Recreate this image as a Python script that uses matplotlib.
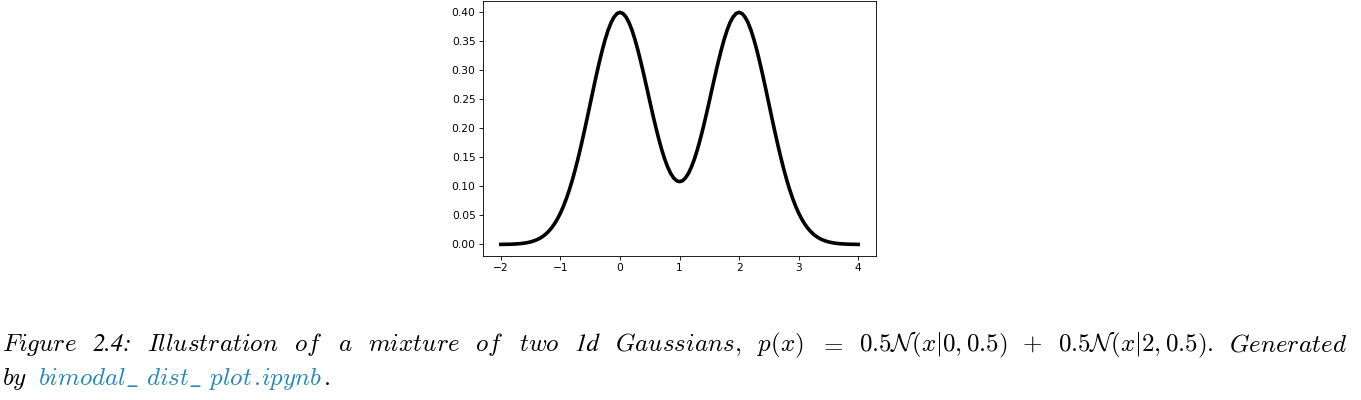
import numpy as np
import matplotlib
matplotlib.use('Agg')
import matplotlib.pyplot as plt

# curve values, x step 0.05 from -2 to 4
x_vals = [round(-2 + 0.05 * i, 2) for i in range(121)]
p_vals = [0.0001, 0.0002, 0.0003, 0.0004, 0.0006, 0.0009, 0.0012, 0.0017, 0.0024, 0.0033,
          0.0044, 0.0060, 0.0079, 0.0104, 0.0136, 0.0175, 0.0224, 0.0283, 0.0355, 0.0440,
          0.0540, 0.0656, 0.0790, 0.0940, 0.1109, 0.1295, 0.1497, 0.1714, 0.1942, 0.2178,
          0.2420, 0.2661, 0.2897, 0.3122, 0.3332, 0.3520, 0.3683, 0.3814, 0.3910, 0.3970,
          0.3990, 0.3971, 0.3913, 0.3818, 0.3689, 0.3529, 0.3344, 0.3139, 0.2921, 0.2694,
          0.2464, 0.2238, 0.2021, 0.1818, 0.1633, 0.1470, 0.1333, 0.1223, 0.1145, 0.1096,
          0.1080,
          0.1096, 0.1145, 0.1223, 0.1333, 0.1470, 0.1633, 0.1818, 0.2021, 0.2238, 0.2464,
          0.2694, 0.2921, 0.3139, 0.3344, 0.3529, 0.3689, 0.3818, 0.3913, 0.3971, 0.3990,
          0.3970, 0.3910, 0.3814, 0.3683, 0.3520, 0.3332, 0.3122, 0.2897, 0.2661, 0.2420,
          0.2178, 0.1942, 0.1714, 0.1497, 0.1295, 0.1109, 0.0940, 0.0790, 0.0656, 0.0540,
          0.0440, 0.0355, 0.0283, 0.0224, 0.0175, 0.0136, 0.0104, 0.0079, 0.0060, 0.0044,
          0.0033, 0.0024, 0.0017, 0.0012, 0.0009, 0.0006, 0.0004, 0.0003, 0.0002, 0.0001]
x_ticks = [-2, -1, 0, 1, 2, 3, 4]
y_ticks = [0.00, 0.05, 0.10, 0.15, 0.20, 0.25, 0.30, 0.35, 0.40]

# caption words; $...$ tokens use Computer Modern via mathtext, others STIX italic
caption_words = [r'$Figure$', '2.4:', r'$Illustration$', r'$of$', r'$a$', r'$mixture$',
                 r'$of$', r'$two$', '1d', r'$Gaussians,$',
                 r'$p(x)$', r'$=$', r'$0.5\mathcal{N}(x|0,0.5)$', r'$+$', r'$0.5\mathcal{N}(x|2,0.5).$',
                 r'$Generated$']
caption_line2 = [r'$by$', r'$bimodal\_$', r'$dist\_$', r'$plot$', r'$.$', r'$ipynb$', r'$.$']
link_color = '#2188b9'
line2_colors = ['black', link_color, link_color, link_color, link_color, link_color, 'black']
line2_gaps = [11, 7, 7, 1, 1, 1]

plt.rcParams['mathtext.fontset'] = 'cm'
sc = 0.77  # the plot was shrunk into the page

fig = plt.figure(figsize=(13.61, 4), dpi=100)
ax = fig.add_axes([0.3549, 0.36, 0.2888, 0.638])
ax.plot(x_vals, p_vals, color='black', linewidth=2.6, solid_joinstyle='round')
ax.set_xticks(x_ticks)
ax.set_yticks(y_ticks)
ax.yaxis.set_major_formatter(matplotlib.ticker.FormatStrFormatter('%.2f'))
ax.tick_params(labelsize=10 * sc, length=3.5 * sc, width=0.8 * sc, pad=3.5 * sc)
for s in ax.spines.values():
    s.set_linewidth(0.8 * sc)

cap_size = 18
W = fig.bbox.width
r = fig.canvas.get_renderer()


def make_texts(words, y, colors=None):
    ts = []
    for i, w in enumerate(words):
        c = colors[i] if colors else 'black'
        kw = {} if w.startswith('$') else dict(family='STIXGeneral', style='italic')
        ts.append(fig.text(0, y, w, color=c, ha='left', va='baseline', fontsize=cap_size, **kw))
    widths = [t.get_window_extent(r).width for t in ts]
    return ts, widths


# first line justified across the page width, like the LaTeX caption
y1 = 1 - 351 / 400
ts, widths = make_texts(caption_words, y1)
x_left, x_right = 2, 1347
gap = (x_right - x_left - sum(widths)) / (len(ts) - 1)
x = x_left
for t, w in zip(ts, widths):
    t.set_x(x / W)
    x += w + gap

# second line
y2 = 1 - 385 / 400
ts, widths = make_texts(caption_line2, y2, line2_colors)
x = x_left
for i, (t, w) in enumerate(zip(ts, widths)):
    t.set_x(x / W)
    if i < len(line2_gaps):
        x += w + line2_gaps[i]

fig.savefig('out.png', dpi=100)
